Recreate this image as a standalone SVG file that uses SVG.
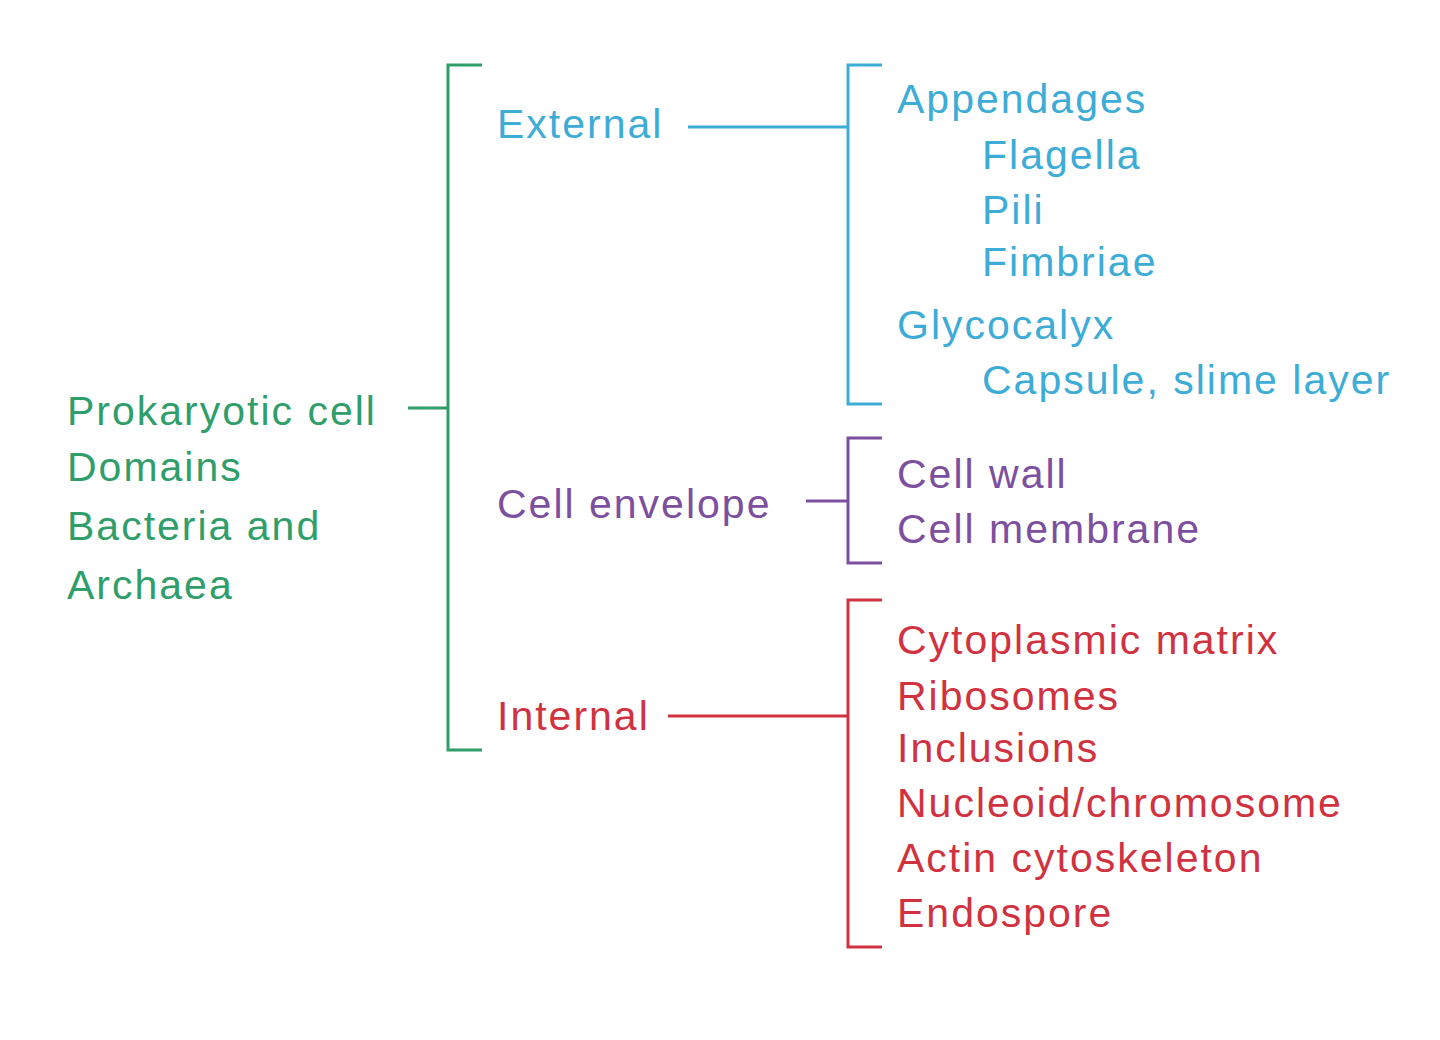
<svg xmlns="http://www.w3.org/2000/svg" width="1440" height="1040" viewBox="0 0 1440 1040">
<style>
text{font-family:"Liberation Sans",Arial,sans-serif;font-size:41px;letter-spacing:2px}
.g{fill:#2f9e6b}.b{fill:#3dacd6}.p{fill:#7c4f9f}.r{fill:#d1323f}
path{fill:none;stroke-width:3}
</style>
<rect width="1440" height="1040" fill="#fff"/>
<g id="connectors">
<path d="M408 408H448M482 65H448V750H482" stroke="#2f9e6b"/>
<path d="M688 127H848M882 65H848V404H882" stroke="#3dacd6"/>
<path d="M806 501H848M882 438H848V563H882" stroke="#7c4f9f"/>
<path d="M668 716H848M882 600H848V947H882" stroke="#d1323f"/>
</g>
<g id="root" class="g"><text x="67" y="425" class="g">Prokaryotic cell</text><text x="67" y="481" class="g">Domains</text><text x="67" y="540" class="g">Bacteria and</text><text x="67" y="599" class="g">Archaea</text></g>
<g id="external"><text x="497" y="138" class="b">External</text></g>
<g id="envelope"><text x="497" y="518" class="p">Cell envelope</text></g>
<g id="internal"><text x="497" y="730" class="r">Internal</text></g>
<g id="external-list" class="b">
<text x="897" y="113" class="b">Appendages</text>
<text x="982" y="169" class="b">Flagella</text>
<text x="982" y="224" class="b">Pili</text>
<text x="982" y="276" class="b">Fimbriae</text>
<text x="897" y="339" class="b">Glycocalyx</text>
<text x="982" y="394" class="b">Capsule, slime layer</text>
</g>
<g id="envelope-list"><text x="897" y="488" class="p">Cell wall</text><text x="897" y="543" class="p">Cell membrane</text></g>
<g id="internal-list">
<text x="897" y="654" class="r">Cytoplasmic matrix</text>
<text x="897" y="710" class="r">Ribosomes</text>
<text x="897" y="762" class="r">Inclusions</text>
<text x="897" y="817" class="r">Nucleoid/chromosome</text>
<text x="897" y="872" class="r">Actin cytoskeleton</text>
<text x="897" y="927" class="r">Endospore</text>
</g>
</svg>
